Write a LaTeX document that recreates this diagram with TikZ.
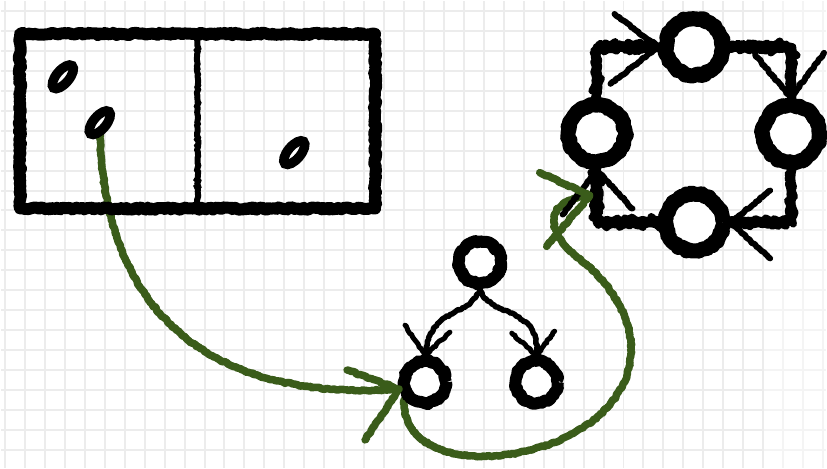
\documentclass[tikz,border=0pt]{standalone}
\usetikzlibrary{calc,shapes.geometric,decorations.pathmorphing}
\pgfdeclarelayer{paper}
\pgfdeclarelayer{links}
\pgfsetlayers{paper,links,main}
\definecolor{papergrid}{RGB}{236,236,236}
\definecolor{moss}{RGB}{58,92,26}
\pgfmathsetseed{11}
\begin{document}
\begin{tikzpicture}[x=1pt,y=-1pt,
  rough/.style={decorate,decoration={random steps,segment length=2pt,amplitude=0.8pt}},
  blot/.style={circle, draw=black, fill=white, inner sep=0pt, line join=round,
    decorate, decoration={random steps,segment length=2.5pt,amplitude=1.2pt}},
  treenode/.style={blot, minimum size=42pt, line width=12pt},
  cyclenode/.style={blot, minimum size=57pt, line width=15pt},
  bead/.style={ellipse, draw=black, fill=white, line width=9.5pt,
    minimum width=29pt, minimum height=13pt, inner sep=0pt, rotate=50},
  frame/.style={draw=black, line width=12pt, inner sep=0pt, line join=round,
    decorate, decoration={random steps,segment length=2pt,amplitude=1.2pt}},
  link/.style={draw=black, line width=7.5pt, rough, line cap=round, line join=round},
  twig/.style={draw=black, line width=6pt, rough, line cap=round, line join=round},
  vine/.style={draw=moss, line width=7.5pt, rough, line cap=round, line join=round,
    postaction={draw=moss, line width=2.5pt, opacity=0.8,
      transform canvas={shift={(1.8pt,1.8pt)}}}},
]
% squared paper
\begin{pgfonlayer}{paper}
  \fill[white] (0,0) rectangle (827,468);
  \foreach \gx in {4,24,...,824} \draw[papergrid,line width=2pt] (\gx,0) -- (\gx,468);
  \foreach \gy in {10,30,...,450} \draw[papergrid,line width=2pt] (0,\gy) -- (827,\gy);
  \fill[white,opacity=0.45] (765,0) rectangle (827,468);
\end{pgfonlayer}
\useasboundingbox (0,0) rectangle (827,468);

% two-cell array with pointers
\node[frame, minimum width=356pt, minimum height=175pt] (arr) at (197,120.5) {};
\draw[black, line width=6pt, rough] (arr.north) -- (arr.south);
\node[bead] (p1) at (62,76) {};
\node[bead] (p2) at (99,122) {};
\node[bead] (p3) at (294,152) {};

% small tree
\node[treenode] (t0) at (480,262) {};
\node[treenode] (c1) at (425,382) {};
\node[treenode] (c2) at (537,382) {};

% cycle of four
\node[cyclenode] (r1) at (695,46) {};
\node[cyclenode] (r2) at (792,133) {};
\node[cyclenode] (r3) at (695,222) {};
\node[cyclenode] (r4) at (597,133) {};
\coordinate (gtip) at ($(r4.south)+(-7,26)$);

\begin{pgfonlayer}{links}
  % tree edges
  \draw[link, line width=5.5pt] (t0.south) .. controls (470,318) and (430,305) .. (c1.north);
  \draw[link, line width=5.5pt] (t0.south) .. controls (490,318) and (540,305) .. (c2.north);
  % cycle edges
  \draw[link, rounded corners=8pt] (r4.north) |- (r1.west);
  \draw[link, rounded corners=8pt] (r1.east) -| (r2.north);
  \draw[link, rounded corners=8pt] (r2.south) |- (r3.east);
  \draw[link, rounded corners=8pt] (r3.west) -| (r4.south);
  % green pointers
  \draw[vine] (p2.center) .. controls (100,340) and (240,400) .. (c1.195);
  \draw[vine] (c1.220) .. controls (400,475) and (540,470) .. (600,415)
     .. controls (660,360) and (625,290) .. (575,255)
     .. controls (545,228) and (545,200) .. (gtip);
\end{pgfonlayer}

% tree arrowheads
\draw[twig, line width=5pt] ($(c1.north)+(-20,-30)$) -- ($(c1.north)+(3,4)$);
\draw[twig, line width=5pt] ($(c1.north)+(25,-23)$) -- ($(c1.north)+(-3,3)$);
\draw[twig, line width=5pt] ($(c2.north)+(-25,-22)$) -- ($(c2.north)+(3,3)$);
\draw[twig, line width=5pt] ($(c2.north)+(18,-24)$) -- ($(c2.north)+(-2,3)$);

% cycle arrowheads
\draw[twig] ($(r1.west)+(-44,-33)$) -- ($(r1.west)+(5,4)$);
\draw[twig] ($(r1.west)+(-48,37)$) -- ($(r1.west)+(5,-4)$);
\draw[twig] ($(r2.north)+(-36,-43)$) -- ($(r2.north)+(4,5)$);
\draw[twig] ($(r2.north)+(33,-45)$) -- ($(r2.north)+(-4,5)$);
\draw[twig] ($(r3.east)+(40,-32)$) -- ($(r3.east)+(-5,4)$);
\draw[twig] ($(r3.east)+(40,36)$) -- ($(r3.east)+(-5,-4)$);
\draw[twig] ($(r4.south)+(-34,45)$) -- ($(r4.south)+(4,-5)$);
\draw[twig] ($(r4.south)+(36,39)$) -- ($(r4.south)+(-4,-4)$);

% green arrowheads
\draw[vine] ($(c1.195)+(-52,-19)$) -- (c1.195) -- ($(c1.195)+(-34,51)$);
\draw[vine] ($(gtip)+(-50,-23)$) -- (gtip) -- ($(gtip)+(-43,51)$);
\end{tikzpicture}
\end{document}
